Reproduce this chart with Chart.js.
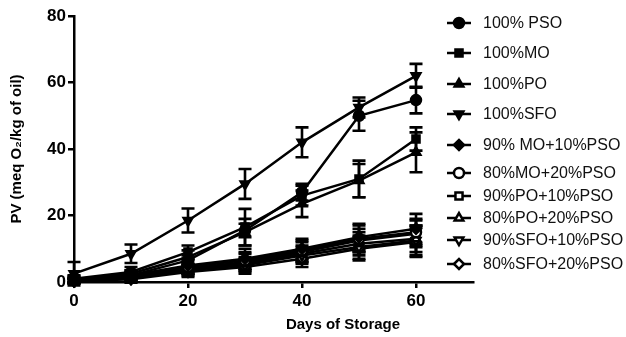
<!DOCTYPE html>
<html><head><meta charset="utf-8">
<script src="https://cdn.jsdelivr.net/npm/chart.js@4/dist/chart.umd.min.js"></script>
<style>html,body{margin:0;padding:0;background:#fff}#wrap{width:626px;height:337px;position:relative}</style>
</head><body><div id="wrap"><canvas id="c" width="626" height="337"></canvas></div>
<script>
const days = [0, 10, 20, 30, 40, 50, 60];
const xTicks = [0, 20, 40, 60];
const yTicks = [0, 20, 40, 60, 80];
const seriesNames = ['100% PSO', '100%MO', '100%PO', '100%SFO', '90% MO+10%PSO', '80%MO+20%PSO', '90%PO+10%PSO', '80%PO+20%PSO', '90%SFO+10%PSO', '80%SFO+20%PSO'];

const pso100 = [0.5, 2, 6.5, 15.5, 27, 50, 54.7];
const pso100Err = [0.5, 1, 1.5, 2, 2.5, 4.5, 4];
const mo100 = [1, 3, 9, 16.5, 26, 31, 43];
const mo100Err = [1, 1.5, 2, 5.5, 3, 5.5, 3.5];
const po100 = [0.5, 2.5, 7.5, 15, 23.5, 30.5, 39];
const po100Err = [0.5, 1, 2, 4, 4, 5, 6];
const sfo100 = [2.5, 8.5, 18.5, 29.5, 42, 52.5, 62];
const sfo100Err = [3.5, 2.8, 3.6, 4.5, 4.5, 3, 3.6];
const mo90 = [0.8, 2, 5, 7, 10, 13.5, 16];
const mo90Err = [1, 1.5, 2, 3, 3, 4, 4.5];
const mo80 = [0.5, 1.8, 4.5, 6.5, 9.5, 13, 15];
const mo80Err = [0.8, 1.2, 2, 2.5, 3, 4, 4];
const po90 = [0.3, 1.5, 4, 6, 9, 12.5, 14.5];
const po90Err = [0.8, 1, 1.5, 2.5, 3, 3.5, 4];
const po80 = [0.5, 1.2, 3.8, 5.5, 8.5, 11.5, 13];
const po80Err = [0.8, 1, 1.5, 2, 2.5, 3.5, 4];
const sfo90 = [0.3, 1, 3.5, 5, 8, 10.5, 12.5];
const sfo90Err = [0.6, 1, 1.5, 2, 2.5, 3.5, 4.5];
const sfo80 = [0.2, 0.8, 3, 4.5, 7, 10, 12];
const sfo80Err = [0.5, 1, 1.5, 2, 2.5, 3.5, 4.5];

const seriesValues = [pso100, mo100, po100, sfo100, mo90, mo80, po90, po80, sfo90, sfo80];
const seriesErrors = [pso100Err, mo100Err, po100Err, sfo100Err, mo90Err, mo80Err, po90Err, po80Err, sfo90Err, sfo80Err];
const markerStyles = ['circle', 'rect', 'triangle', 'triangle', 'rectRot', 'circle', 'rect', 'triangle', 'triangle', 'rectRot'];
const markerRot = [0, 0, 0, 180, 0, 0, 0, 0, 180, 0];
const markerFilled = [true, true, true, true, true, false, false, false, false, false];
const legendY = [23, 53, 84, 114, 145, 173, 196, 218, 240, 264];

const FONT = '"Liberation Sans", Arial, Helvetica, sans-serif';

const datasets = seriesNames.map((name, s) => ({
  label: name,
  data: days.map((d, i) => ({ x: d, y: seriesValues[s][i] })),
  err: seriesErrors[s],
  borderColor: '#000',
  borderWidth: 2.5,
  backgroundColor: markerFilled[s] ? '#000' : '#fff',
  pointBorderColor: '#000',
  pointBorderWidth: 2.5,
  pointStyle: markerStyles[s],
  pointRotation: markerRot[s],
  pointRadius: 5,
  pointHoverRadius: 5,
  tension: 0,
  clip: false
}));

const errPlugin = {
  id: 'errbars',
  beforeDatasetsDraw(chart) {
    const { ctx, scales: { x, y } } = chart;
    ctx.save();
    ctx.strokeStyle = '#000';
    ctx.lineWidth = 2.6;
    chart.data.datasets.forEach(ds => {
      ds.data.forEach((p, i) => {
        const e = ds.err[i];
        const px = x.getPixelForValue(p.x);
        const yt = y.getPixelForValue(p.y + e);
        const yb = y.getPixelForValue(p.y - e);
        ctx.beginPath();
        ctx.moveTo(px, yt); ctx.lineTo(px, yb);
        ctx.moveTo(px - 6.5, yt); ctx.lineTo(px + 6.5, yt);
        ctx.moveTo(px - 6.5, yb); ctx.lineTo(px + 6.5, yb);
        ctx.stroke();
      });
    });
    ctx.restore();
  }
};

const extraPlugin = {
  id: 'extra',
  afterDraw(chart) {
    const ctx = chart.ctx;
    ctx.save();
    ctx.fillStyle = '#000';
    ctx.font = 'bold 15px ' + FONT;
    ctx.textAlign = 'center';
    ctx.textBaseline = 'middle';
    ctx.fillText('Days of Storage', 343, 325);
    ctx.font = '16px ' + FONT;
    ctx.textAlign = 'left';
    chart.data.datasets.forEach((ds, s) => {
      const yy = legendY[s];
      ctx.strokeStyle = '#000';
      ctx.lineWidth = 2.5;
      ctx.beginPath();
      ctx.moveTo(447, yy); ctx.lineTo(471, yy);
      ctx.stroke();
      ctx.fillStyle = markerFilled[s] ? '#000' : '#fff';
      ctx.strokeStyle = '#000';
      ctx.lineWidth = 2.5;
      Chart.helpers.drawPoint(ctx, { pointStyle: markerStyles[s], rotation: markerRot[s], radius: 5, borderWidth: 2.5 }, 459, yy);
      ctx.fillStyle = '#111';
      ctx.fillText(ds.label, 483, yy + 1);
    });
    ctx.restore();
  }
};

new Chart(document.getElementById('c'), {
  type: 'line',
  data: { datasets },
  plugins: [errPlugin, extraPlugin],
  options: {
    responsive: false,
    animation: false,
    events: [],
    layout: { padding: { top: 16, right: 153, left: 0, bottom: 0 } },
    plugins: { legend: { display: false }, tooltip: { enabled: false } },
    scales: {
      x: {
        type: 'linear', min: 0, max: 70,
        afterFit(s) { s.height = 55; },
        afterBuildTicks(s) { s.ticks = xTicks.map(v => ({ value: v })); },
        border: { display: true, color: '#000', width: 2.5 },
        grid: { drawOnChartArea: false, drawTicks: true, tickLength: 6, color: '#000', lineWidth: 2.5 },
        ticks: { color: '#000', font: { family: FONT, size: 17, weight: 'bold' }, padding: 3, maxRotation: 0 }
      },
      y: {
        type: 'linear', min: 0, max: 80,
        afterFit(s) { s.width = 74; },
        afterBuildTicks(s) { s.ticks = yTicks.map(v => ({ value: v })); },
        border: { display: true, color: '#000', width: 2.5 },
        grid: { drawOnChartArea: false, drawTicks: true, tickLength: 6, color: '#000', lineWidth: 2.5 },
        ticks: { color: '#000', font: { family: FONT, size: 17, weight: 'bold' }, padding: 2 },
        title: { display: true, text: 'PV (meq O₂/kg of oil)', color: '#000', font: { family: FONT, size: 15, weight: 'bold' }, padding: { top: 8, bottom: 0 } }
      }
    }
  }
});
</script>
</body></html>
